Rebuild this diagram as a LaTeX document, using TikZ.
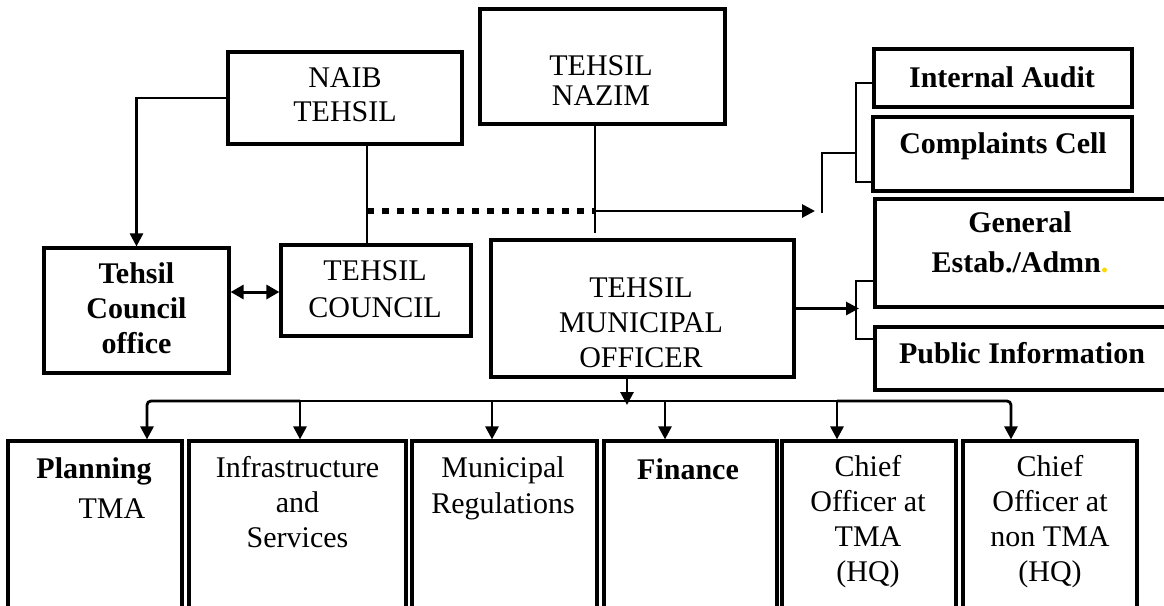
\documentclass[tikz,border=0pt]{standalone}
\usepackage{fontspec}
\setmainfont{Liberation Serif}
\usetikzlibrary{arrows.meta,calc}
\definecolor{dotyellow}{RGB}{255,215,0}
\begin{document}
\begin{tikzpicture}[x=1pt,y=-1pt,
  box/.style={draw=black, line width=3.2pt, rectangle, inner sep=0pt, fill=white},
  txt/.style={inner sep=0pt, align=center, anchor=north, font=\fontsize{30}{35}\selectfont},
  btxt/.style={inner sep=0pt, align=center, anchor=north, font=\fontsize{30}{35}\selectfont\bfseries},
  conn/.style={line width=2.8pt, draw=black},
  arr/.style={conn, -{Triangle[length=13pt,width=13pt]}},
  darr/.style={line width=3pt, draw=black, {Triangle[length=13pt,width=14pt]}-{Triangle[length=13pt,width=14pt]}},
  dotline/.style={line width=6.5pt, draw=black, dash pattern=on 6.5pt off 8.5pt},
]
\useasboundingbox (0,0) rectangle (1164,605);
\fill[white] (0,0) rectangle (1164,605);
\clip (0,0) rectangle (1164,605);

% boxes
\node[box, minimum width=234pt, minimum height=92pt] (naib) at (345,98) {};
\node[box, minimum width=245pt, minimum height=115pt] (nazim) at (602.5,66.5) {};
\node[box, minimum width=185pt, minimum height=125pt] (tco) at (136.5,310.5) {};
\node[box, minimum width=190pt, minimum height=91pt] (tc) at (376,290.5) {};
\node[box, minimum width=303pt, minimum height=137pt] (tmo) at (642.5,308.5) {};
\node[box, minimum width=258pt, minimum height=58pt] (ia) at (1003,78) {};
\node[box, minimum width=259pt, minimum height=74pt] (cc) at (1002.5,154) {};
\node[box, minimum width=300pt, minimum height=108pt] (gen) at (1025,253) {};
\node[box, minimum width=300pt, minimum height=63pt] (pub) at (1025,358.5) {};
\node[box, minimum width=174pt, minimum height=179pt] (plan) at (95,530.5) {};
\node[box, minimum width=217pt, minimum height=179pt] (infra) at (297.5,530.5) {};
\node[box, minimum width=185pt, minimum height=179pt] (muni) at (504.5,530.5) {};
\node[box, minimum width=173pt, minimum height=179pt] (fin) at (690.5,530.5) {};
\node[box, minimum width=174pt, minimum height=179pt] (cta) at (869,530.5) {};
\node[box, minimum width=174pt, minimum height=179pt] (ctn) at (1050,530.5) {};

% texts
\node[txt, font=\fontsize{30}{34}\selectfont] (naibt) at (345,67) {NAIB\\TEHSIL};
\node[txt, font=\fontsize{30}{30}\selectfont] (nazimt) at (601,55) {TEHSIL\\NAZIM};
\node[btxt] (tcot) at (136.5,262.5) {Tehsil\\Council\\office};
\node[txt, font=\fontsize{30}{37}\selectfont] (tct) at (375,260) {TEHSIL\\COUNCIL};
\node[txt] (tmot) at (641,277) {TEHSIL\\MUNICIPAL\\OFFICER};
\node[btxt] (iat) at (1002,66.5) {Internal Audit};
\node[btxt] (cct) at (1003,132.5) {Complaints Cell};
\node[btxt, font=\fontsize{30}{40}\selectfont\bfseries] (gent) at (1020,211.5) {General\\Estab./Admn\textcolor{dotyellow}{.}};
\node[btxt] (pubt) at (1022,342.5) {Public Information};
\node[btxt] (plant) at (94,457.5) {Planning};
\node[txt] (plant2) at (112,498) {TMA};
\node[txt] (infrat) at (297.5,456.5) {Infrastructure\\and\\Services};
\node[txt, font=\fontsize{30}{36}\selectfont] (munit) at (503,456.5) {Municipal\\Regulations};
\node[btxt] (fint) at (688,458.5) {Finance};
\node[txt] (ctat) at (868,455.5) {Chief\\Officer at\\TMA\\(HQ)};
\node[txt] (ctnt) at (1050,455.5) {Chief\\Officer at\\non TMA\\(HQ)};

% coordinates
\coordinate (d1) at (367,211);
\coordinate (d2) at (595,211);
\coordinate (brk) at (815,211);
\coordinate (nz) at (595,233);
\coordinate (b1) at (147,401);
\coordinate (b2) at (300,401);
\coordinate (b3) at (492,401);
\coordinate (b4) at (665,401);
\coordinate (b5) at (837,401);
\coordinate (b6) at (1011,401);
\coordinate (tmoend) at (627,405);

% connectors
\draw[arr] (naib.west) -| (tco.north);
\draw[conn] ([xshift=22pt]naib.south) -- ([xshift=22pt]naib.south |- tc.north);
\draw[darr] (tco.east |- 0,292) -- (tc.west |- 0,292);
\draw[dotline] (d1) -- (d2);
\draw[conn] ([xshift=-7.5pt]nazim.south) -- (nz);
\draw[arr] (d2) -- (brk);
\draw[conn] (822,213) |- (856,153);
\draw[conn] (ia.west |- 0,83) -| (856,182) -- (cc.west |- 0,182);
\draw[arr] (tmo.east) -- (859,308.5);
\draw[conn] (gen.west |- 0,281) -| (856,339) -- (pub.west |- 0,339);
\draw[arr, rounded corners=4pt] (b2) -- (b1) -- (b1 |- plan.north);
\draw[conn] (b2) -- (b5);
\draw[arr, rounded corners=4pt] (b5) -- (b6) -- (b6 |- ctn.north);
\draw[arr] (b2) -- (b2 |- infra.north);
\draw[arr] (b3) -- (b3 |- muni.north);
\draw[arr] (b4) -- (b4 |- fin.north);
\draw[arr] (b5) -- (b5 |- cta.north);
\draw[arr] ([xshift=-15.5pt]tmo.south) -- (tmoend);
\end{tikzpicture}
\end{document}
